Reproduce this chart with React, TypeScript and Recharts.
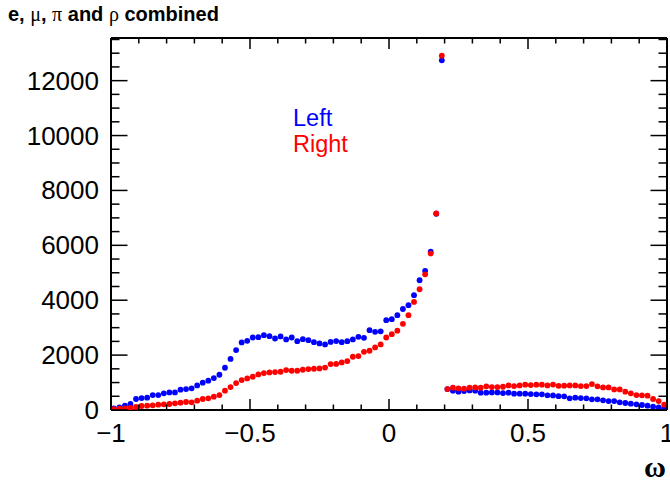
import React from "react"
import { ScatterChart, Scatter, XAxis, YAxis } from "recharts"

// bin centres of omega (0.02 wide bins from -1 to 1)
const omega = [
  -0.99, -0.97, -0.95, -0.93, -0.91, -0.89, -0.87, -0.85, -0.83, -0.81,
  -0.79, -0.77, -0.75, -0.73, -0.71, -0.69, -0.67, -0.65, -0.63, -0.61,
  -0.59, -0.57, -0.55, -0.53, -0.51, -0.49, -0.47, -0.45, -0.43, -0.41,
  -0.39, -0.37, -0.35, -0.33, -0.31, -0.29, -0.27, -0.25, -0.23, -0.21,
  -0.19, -0.17, -0.15, -0.13, -0.11, -0.09, -0.07, -0.05, -0.03, -0.01,
  0.01, 0.03, 0.05, 0.07, 0.09, 0.11, 0.13, 0.15, 0.17, 0.19,
  0.21, 0.23, 0.25, 0.27, 0.29, 0.31, 0.33, 0.35, 0.37, 0.39,
  0.41, 0.43, 0.45, 0.47, 0.49, 0.51, 0.53, 0.55, 0.57, 0.59,
  0.61, 0.63, 0.65, 0.67, 0.69, 0.71, 0.73, 0.75, 0.77, 0.79,
  0.81, 0.83, 0.85, 0.87, 0.89, 0.91, 0.93, 0.95, 0.97, 0.99,
]

const leftCounts = [
  60, 97, 157, 218, 400, 436, 448, 545, 545, 606,
  642, 642, 740, 764, 788, 897, 994, 1067, 1164, 1285,
  1540, 1860, 2182, 2461, 2521, 2642, 2654, 2727, 2691, 2606,
  2679, 2570, 2642, 2509, 2582, 2545, 2473, 2424, 2390, 2480,
  2510, 2473, 2509, 2570, 2667, 2630, 2909, 2848, 2865, 3273,
  3309, 3454, 3680, 3818, 4182, 4727, 5070, 5770, 7150, 12740,
  764, 703, 667, 691, 715, 703, 630, 630, 642, 642,
  618, 630, 594, 594, 594, 582, 570, 570, 533, 530,
  503, 497, 424, 448, 436, 424, 388, 388, 352, 327,
  327, 279, 255, 230, 206, 182, 158, 121, 97, 61,
]

const rightCounts = [
  30, 45, 60, 80, 110, 145, 158, 170, 194, 206,
  218, 242, 267, 291, 279, 339, 400, 424, 485, 545,
  703, 836, 980, 1091, 1152, 1212, 1297, 1345, 1370, 1382,
  1394, 1455, 1430, 1430, 1467, 1491, 1503, 1515, 1545, 1673,
  1680, 1733, 1782, 1940, 1964, 2121, 2158, 2279, 2388, 2642,
  2763, 2890, 3140, 3454, 3939, 4400, 4945, 5700, 7164, 12909,
  764, 812, 788, 776, 812, 824, 812, 861, 836, 836,
  848, 897, 873, 897, 921, 909, 921, 921, 897, 927,
  880, 885, 897, 897, 873, 873, 945, 861, 824, 824,
  751, 751, 667, 606, 545, 533, 521, 400, 327, 194,
]

const xTicks = [-1, -0.9, -0.8, -0.7, -0.6, -0.5, -0.4, -0.3, -0.2, -0.1, 0, 0.1, 0.2, 0.3, 0.4, 0.5, 0.6, 0.7, 0.8, 0.9, 1]
const xMajor = [-1, -0.5, 0, 0.5, 1]
const xMajorLabels = ["\u22121", "\u22120.5", "0", "0.5", "1"]
const yTicks = [0, 500, 1000, 1500, 2000, 2500, 3000, 3500, 4000, 4500, 5000, 5500, 6000, 6500, 7000, 7500, 8000, 8500, 9000, 9500, 10000, 10500, 11000, 11500, 12000, 12500, 13000, 13500]
const yMajor = [0, 2000, 4000, 6000, 8000, 10000, 12000]
const yMax = 13554

const leftData = omega.map((x, i) => ({ x, y: leftCounts[i] }))
const rightData = omega.map((x, i) => ({ x, y: rightCounts[i] }))

const FONT = "'Liberation Sans', Arial, Helvetica, sans-serif"

const xIndex = (v: number) => xMajor.findIndex((m) => Math.abs(m - v) < 1e-6)

const XTick = ({ x, y, payload, top }: any) => {
  const i = xIndex(payload.value)
  const len = i >= 0 ? 11 : 5.5
  const dir = top ? 1 : -1
  return (
    <g>
      <line x1={x} x2={x} y1={y} y2={y + dir * len} stroke="#000" strokeWidth={1.5} />
      {!top && i >= 0 && (
        <text x={x} y={y + 32} textAnchor="middle" fontSize={26} fontFamily={FONT} fill="#000">
          {xMajorLabels[i]}
        </text>
      )}
    </g>
  )
}

const YTick = ({ x, y, payload, right }: any) => {
  const major = yMajor.includes(payload.value)
  const len = major ? 16.5 : 8.5
  const dir = right ? -1 : 1
  return (
    <g>
      <line x1={x} x2={x + dir * len} y1={y} y2={y} stroke="#000" strokeWidth={1.5} />
      {!right && major && (
        <text x={x - 12} y={y + 9} textAnchor="end" fontSize={26} fontFamily={FONT} fill="#000">
          {payload.value}
        </text>
      )}
    </g>
  )
}

const dot = (color: string) => (p: any) => <circle cx={p.cx} cy={p.cy} r={2.9} fill={color} />

const axisLine = { stroke: "#000", strokeWidth: 2 }

export default function App() {
  return (
    <div style={{ position: "absolute", left: 0, top: 0, width: 670, height: 485, background: "#fff" }}>
      <ScatterChart width={670} height={485} margin={{ top: 37, right: 2, bottom: 74, left: 0 }}>
        <XAxis
          xAxisId="b"
          type="number"
          dataKey="x"
          domain={[-1, 1]}
          allowDataOverflow
          ticks={xTicks}
          interval={0}
          height={1}
          tickSize={0}
          tickMargin={0}
          axisLine={axisLine}
          tickLine={false}
          tick={<XTick />}
        />
        <XAxis
          xAxisId="t"
          orientation="top"
          type="number"
          dataKey="x"
          domain={[-1, 1]}
          allowDataOverflow
          ticks={xTicks}
          interval={0}
          height={1}
          tickSize={0}
          tickMargin={0}
          axisLine={axisLine}
          tickLine={false}
          tick={<XTick top />}
        />
        <YAxis
          yAxisId="l"
          type="number"
          dataKey="y"
          domain={[0, yMax]}
          allowDataOverflow
          ticks={yTicks}
          interval={0}
          width={111}
          tickSize={0}
          tickMargin={0}
          axisLine={axisLine}
          tickLine={false}
          tick={<YTick />}
        />
        <YAxis
          yAxisId="r"
          orientation="right"
          type="number"
          dataKey="y"
          domain={[0, yMax]}
          allowDataOverflow
          ticks={yTicks}
          interval={0}
          width={1}
          tickSize={0}
          tickMargin={0}
          axisLine={axisLine}
          tickLine={false}
          tick={<YTick right />}
        />
        <Scatter xAxisId="b" yAxisId="l" data={leftData} shape={dot("#0000ff")} isAnimationActive={false} />
        <Scatter xAxisId="b" yAxisId="l" data={rightData} shape={dot("#ff0000")} isAnimationActive={false} />
        <Scatter xAxisId="t" yAxisId="r" data={rightData} shape={() => <g />} isAnimationActive={false} />
      </ScatterChart>
      <svg width={670} height={485} style={{ position: "absolute", left: 0, top: 0, pointerEvents: "none" }}>
        <text x={8} y={21} fontSize={20} fontFamily={FONT} fontWeight="bold" fill="#000">
          e,{" "}
          <tspan fontFamily="'Liberation Serif', serif" fontWeight="normal">{"\u03bc"}</tspan>
          ,{" "}
          <tspan fontFamily="'Liberation Serif', serif" fontWeight="normal">{"\u03c0"}</tspan>
          {" "}and{" "}
          <tspan fontFamily="'Liberation Serif', serif" fontWeight="normal">{"\u03c1"}</tspan>
          {" "}combined
        </text>
        <text x={293} y={126} fontSize={23.5} fontFamily={FONT} fill="#0000ff">Left</text>
        <text x={293} y={152} fontSize={23.5} fontFamily={FONT} fill="#ff0000">Right</text>
        <text x={666} y={477} textAnchor="end" fontSize={30} fontFamily="'Liberation Serif', serif" fontWeight="bold" fill="#000">
          {"\u03c9"}
        </text>
      </svg>
    </div>
  )
}
